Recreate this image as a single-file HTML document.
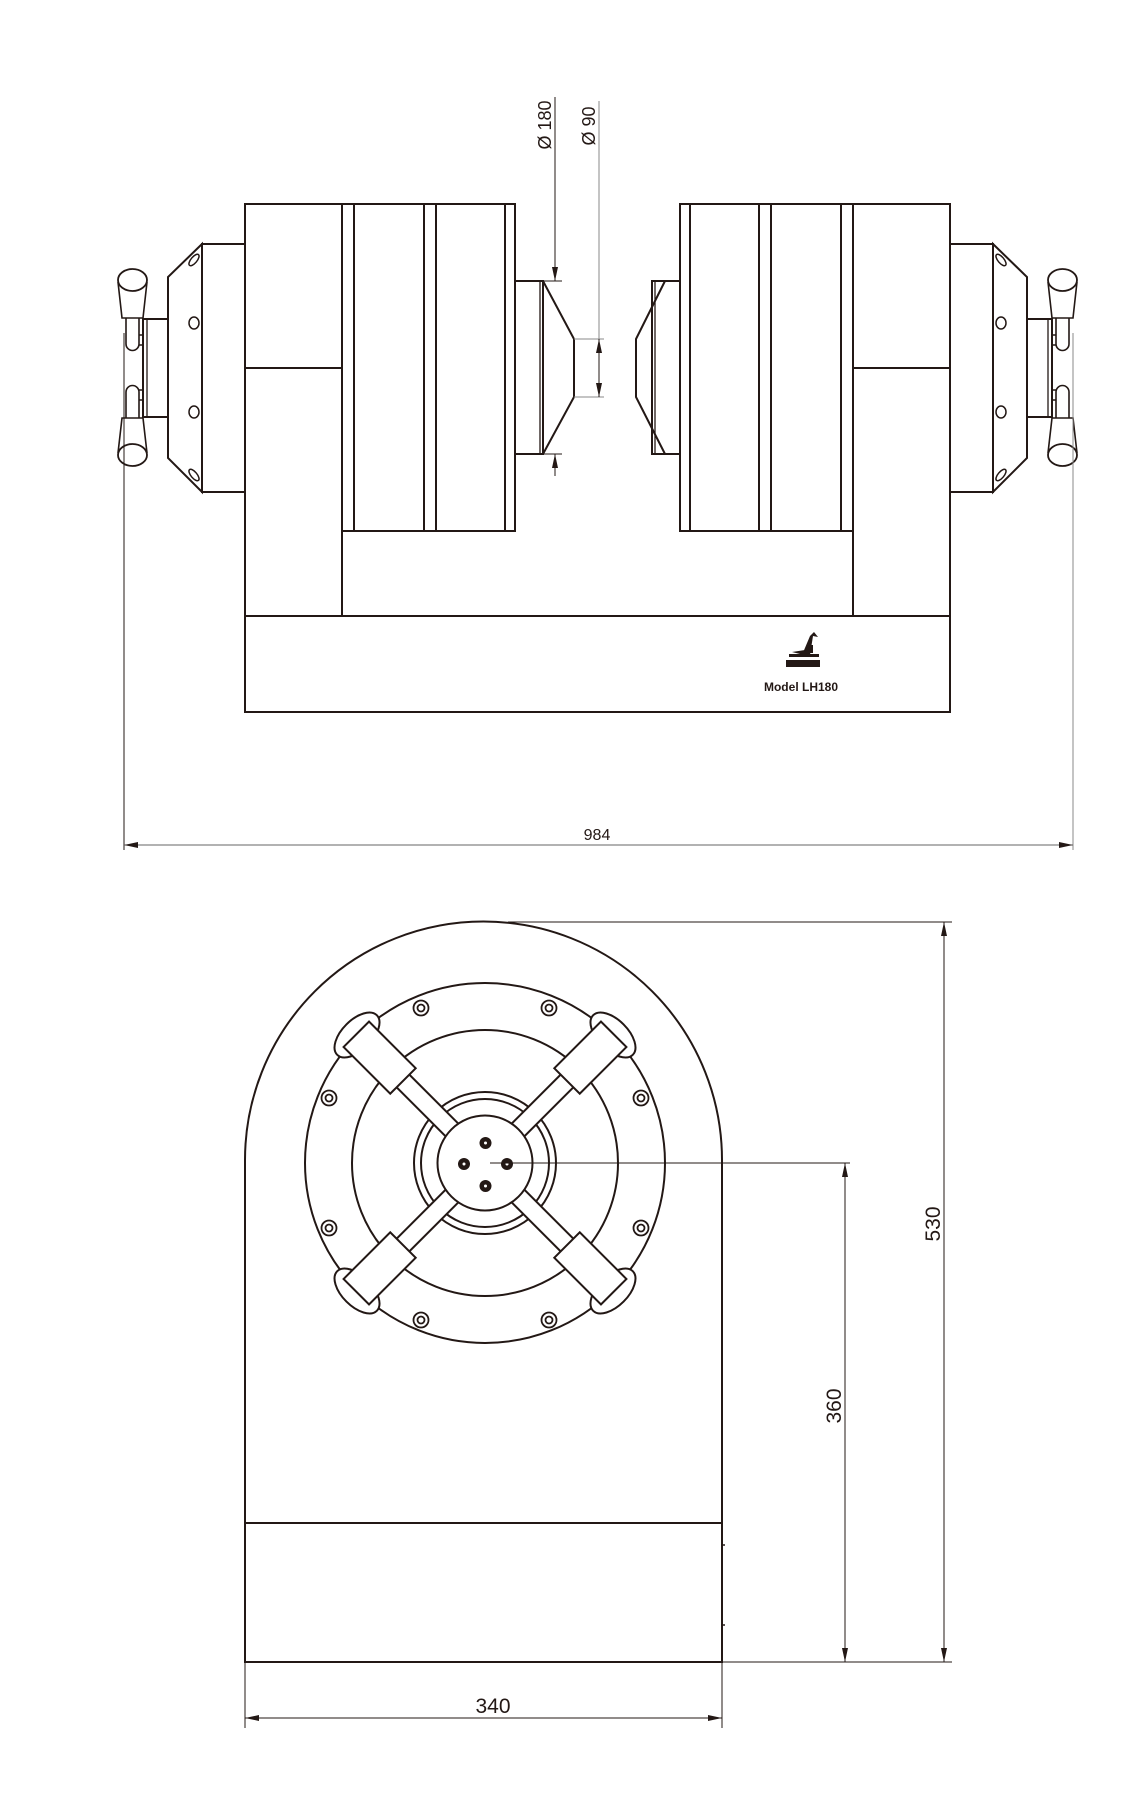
<!DOCTYPE html>
<html><head><meta charset="utf-8"><style>
html,body{margin:0;padding:0;background:#fff;}
svg{display:block;}
text{font-family:"Liberation Sans",sans-serif;}
</style></head><body>
<svg width="1141" height="1796" viewBox="0 0 1141 1796" xmlns="http://www.w3.org/2000/svg">
<defs>
<g id="side">
  <g fill="none" stroke="#231815" stroke-width="2">
    <path d="M245 616 V204 H515 V531 H342" fill="#fff"/>
    <line x1="342" y1="204" x2="342" y2="616"/>
    <line x1="354" y1="204" x2="354" y2="531"/>
    <line x1="424" y1="204" x2="424" y2="531"/>
    <line x1="436" y1="204" x2="436" y2="531"/>
    <line x1="505" y1="204" x2="505" y2="531"/>
    <line x1="245" y1="368" x2="342" y2="368"/>
    <rect x="202" y="244" width="43" height="248"/>
    <polygon points="202,244 168,277 168,458 202,492"/>
    <rect x="143" y="319" width="25" height="98"/>
    <line x1="147" y1="319" x2="147" y2="417" stroke-width="1.3"/>
    <rect x="515" y="281" width="28" height="173"/>
    <line x1="540" y1="281" x2="540" y2="454" stroke-width="1.3"/>
    <ellipse cx="194" cy="260" rx="3" ry="7" transform="rotate(40 194 260)" stroke-width="1.5"/>
    <ellipse cx="194" cy="323" rx="5" ry="6" stroke-width="1.5"/>
    <ellipse cx="194" cy="412" rx="5" ry="6" stroke-width="1.5"/>
    <ellipse cx="194" cy="475" rx="3" ry="7" transform="rotate(-40 194 475)" stroke-width="1.5"/>
    <line x1="139" y1="335" x2="143" y2="335" stroke-width="1.5"/>
    <line x1="139" y1="345" x2="143" y2="345" stroke-width="1.5"/>
    <line x1="139" y1="390" x2="143" y2="390" stroke-width="1.5"/>
    <line x1="139" y1="400" x2="143" y2="400" stroke-width="1.5"/>
    <path d="M126 318 V344 A6.5 6.5 0 0 0 139 344 V318" stroke-width="1.6"/>
    <path d="M126 418 V392 A6.5 6.5 0 0 1 139 392 V418" stroke-width="1.6"/>
    <path d="M118 282 L122 318 H143 L147 282" stroke-width="1.6"/>
    <ellipse cx="132.5" cy="280" rx="14.5" ry="11" fill="#fff" stroke-width="1.8"/>
    <path d="M118 453 L122 418 H143 L147 453" stroke-width="1.6"/>
    <ellipse cx="132.5" cy="455" rx="14.5" ry="11" fill="#fff" stroke-width="1.8"/>
  </g>
</g>
<marker id="ar" viewBox="0 0 14 6" refX="14" refY="3" markerWidth="14" markerHeight="6" orient="auto" markerUnits="userSpaceOnUse">
  <path d="M0 0 L14 3 L0 6 z" fill="#231815"/>
</marker>
</defs>

<use href="#side"/>
<use href="#side" transform="translate(1195,0) scale(-1,1)"/>
<g fill="none" stroke="#231815" stroke-width="2">
  <rect x="245" y="616" width="705" height="96"/>
  <polyline points="543,281 574,339 574,397 543,454"/>
  <polyline points="665,281 636,339 636,397 665,454"/>
</g>
<g fill="#231815">
  <rect x="786" y="660" width="34" height="7"/>
  <rect x="789" y="654" width="30" height="3"/>
  <path d="M792 652 L808 656 L805 650 Z"/>
  <path d="M802 655 L810 636 L814 632 L818 637 L813 636 L810 655 Z"/>
  <rect x="810" y="645" width="3" height="8"/>
</g>
<text x="801" y="691" font-size="12" font-weight="bold" text-anchor="middle" fill="#231815">Model LH180</text>

<g stroke="#231815" stroke-width="1" fill="none">
  <line x1="555" y1="97" x2="555" y2="281" marker-end="url(#ar)"/>
  <line x1="555" y1="476" x2="555" y2="454" marker-end="url(#ar)"/>
  <line x1="543" y1="281" x2="562" y2="281"/>
  <line x1="543" y1="454" x2="562" y2="454"/>
  <line x1="599" y1="101" x2="599" y2="339" stroke="#888"/>
  <line x1="574" y1="339" x2="604" y2="339" stroke="#888"/>
  <line x1="574" y1="397" x2="604" y2="397" stroke="#888"/>
  <line x1="599" y1="370" x2="599" y2="339" marker-end="url(#ar)"/>
  <line x1="599" y1="368" x2="599" y2="397" marker-end="url(#ar)"/>
  <line x1="124" y1="333" x2="124" y2="850"/>
  <line x1="1073" y1="333" x2="1073" y2="850" stroke="#888"/>
  <line x1="600" y1="845" x2="124" y2="845" marker-end="url(#ar)" stroke="#666"/>
  <line x1="600" y1="845" x2="1073" y2="845" marker-end="url(#ar)" stroke="#666"/>
</g>
<text transform="translate(551,125) rotate(-90)" font-size="18" text-anchor="middle" fill="#231815">Ø 180</text>
<text transform="translate(595,126) rotate(-90)" font-size="18" text-anchor="middle" fill="#231815">Ø 90</text>
<text x="597" y="840" font-size="16" text-anchor="middle" fill="#231815">984</text>

<g fill="none" stroke="#231815" stroke-width="2">
  <path d="M245 1662 V1160 A238.5 238.5 0 0 1 722 1160 V1662 Z"/>
  <line x1="245" y1="1523" x2="722" y2="1523"/>
  <line x1="722" y1="1545" x2="725" y2="1545" stroke-width="1.5"/>
  <line x1="722" y1="1625" x2="725" y2="1625" stroke-width="1.5"/>
  <circle cx="485" cy="1163" r="180"/>
  <circle cx="485" cy="1163" r="133"/>
  <circle cx="485" cy="1163" r="71"/>
  <circle cx="485" cy="1163" r="64"/>
</g>
<g fill="none" stroke="#231815" stroke-width="1.8">
  <circle cx="421" cy="1008" r="7.5"/><circle cx="421" cy="1008" r="3.5"/>
  <circle cx="549" cy="1008" r="7.5"/><circle cx="549" cy="1008" r="3.5"/>
  <circle cx="329" cy="1098" r="7.5"/><circle cx="329" cy="1098" r="3.5"/>
  <circle cx="641" cy="1098" r="7.5"/><circle cx="641" cy="1098" r="3.5"/>
  <circle cx="329" cy="1228" r="7.5"/><circle cx="329" cy="1228" r="3.5"/>
  <circle cx="641" cy="1228" r="7.5"/><circle cx="641" cy="1228" r="3.5"/>
  <circle cx="421" cy="1320" r="7.5"/><circle cx="421" cy="1320" r="3.5"/>
  <circle cx="549" cy="1320" r="7.5"/><circle cx="549" cy="1320" r="3.5"/>
</g>
<g fill="#fff" stroke="#231815" stroke-width="2">
  <g transform="translate(485,1163) rotate(-135)">
    <ellipse cx="181" cy="0" rx="15" ry="28"/>
    <rect x="40" y="-9" width="78" height="18"/>
    <rect x="116" y="-18" width="66" height="36"/>
  </g>
  <g transform="translate(485,1163) rotate(-45)">
    <ellipse cx="181" cy="0" rx="15" ry="28"/>
    <rect x="40" y="-9" width="78" height="18"/>
    <rect x="116" y="-18" width="66" height="36"/>
  </g>
  <g transform="translate(485,1163) rotate(45)">
    <ellipse cx="181" cy="0" rx="15" ry="28"/>
    <rect x="40" y="-9" width="78" height="18"/>
    <rect x="116" y="-18" width="66" height="36"/>
  </g>
  <g transform="translate(485,1163) rotate(135)">
    <ellipse cx="181" cy="0" rx="15" ry="28"/>
    <rect x="40" y="-9" width="78" height="18"/>
    <rect x="116" y="-18" width="66" height="36"/>
  </g>
  <circle cx="485" cy="1163" r="47.5"/>
</g>
<g fill="#231815">
  <circle cx="485.5" cy="1143" r="6"/><circle cx="464" cy="1164" r="6"/>
  <circle cx="507" cy="1164" r="6"/><circle cx="485.5" cy="1186" r="6"/>
</g>
<g fill="#fff">
  <circle cx="485.5" cy="1143" r="1.5"/><circle cx="464" cy="1164" r="1.5"/>
  <circle cx="507" cy="1164" r="1.5"/><circle cx="485.5" cy="1186" r="1.5"/>
</g>

<g stroke="#231815" stroke-width="1" fill="none">
  <line x1="490" y1="1163" x2="850" y2="1163"/>
  <line x1="508" y1="922" x2="952" y2="922"/>
  <line x1="722" y1="1662" x2="952" y2="1662"/>
  <line x1="944" y1="1290" x2="944" y2="922" marker-end="url(#ar)"/>
  <line x1="944" y1="1290" x2="944" y2="1662" marker-end="url(#ar)"/>
  <line x1="845" y1="1410" x2="845" y2="1163" marker-end="url(#ar)"/>
  <line x1="845" y1="1410" x2="845" y2="1662" marker-end="url(#ar)"/>
  <line x1="245" y1="1662" x2="245" y2="1728"/>
  <line x1="722" y1="1662" x2="722" y2="1728"/>
  <line x1="480" y1="1718" x2="245" y2="1718" marker-end="url(#ar)"/>
  <line x1="480" y1="1718" x2="722" y2="1718" marker-end="url(#ar)"/>
</g>
<text transform="translate(940,1224) rotate(-90)" font-size="21" text-anchor="middle" fill="#231815">530</text>
<text transform="translate(841,1406) rotate(-90)" font-size="21" text-anchor="middle" fill="#231815">360</text>
<text x="493" y="1713" font-size="21" text-anchor="middle" fill="#231815">340</text>
</svg>
</body></html>
